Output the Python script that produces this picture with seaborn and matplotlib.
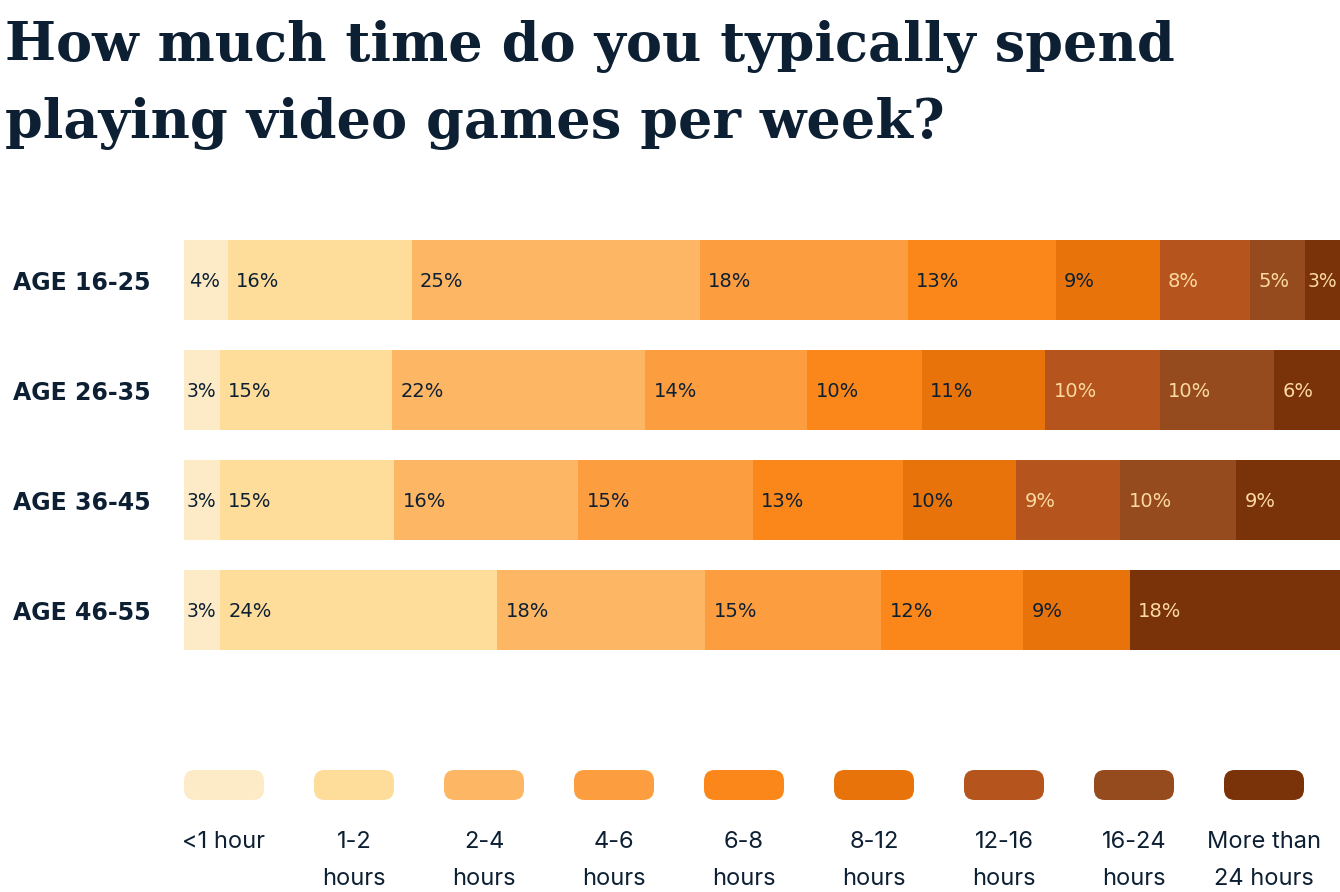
import numpy as np
import pandas as pd
import matplotlib
matplotlib.use("Agg")
import matplotlib.pyplot as plt
from matplotlib.patches import FancyBboxPatch
import seaborn as sns

# data (share of respondents, %)
ages = ["AGE 16-25", "AGE 26-35", "AGE 36-45", "AGE 46-55"]
bands = ["<1 hour", "1-2\nhours", "2-4\nhours", "4-6\nhours", "6-8\nhours",
         "8-12\nhours", "12-16\nhours", "16-24\nhours", "More than\n24 hours"]
age_16_25 = [3.8, 15.9, 24.9, 18.0, 12.8, 9.0, 7.8, 4.8, 3.0]
age_26_35 = [3.1, 14.9, 21.9, 14.0, 9.9, 10.7, 9.9, 9.9, 5.7]
age_36_45 = [3.1, 15.1, 15.9, 15.1, 13.0, 9.8, 9.0, 10.0, 9.0]
age_46_55 = [3.1, 24.0, 18.0, 15.2, 12.3, 9.2, 0.0, 0.0, 18.2]

colors = ["#fdebc8", "#fedd9b", "#fdb664", "#fc9d40", "#fb871a",
          "#e8730b", "#b5541d", "#954b1e", "#7a3208"]
navy = "#0d2033"
light_txt = "#fbd9a0"

vals = np.array([age_16_25, age_26_35, age_36_45, age_46_55])
cum = vals.cumsum(axis=1)

sns.set_theme(style="white")
plt.rcParams["font.family"] = ["Inter", "DejaVu Sans"]

fig = plt.figure(figsize=(13.4, 8.92), dpi=100)
ax = fig.add_axes([184 / 1340, (892 - 665) / 892, 1156 / 1340, 440 / 892])

# stacked bars: draw cumulative totals from the widest down
for j in range(len(bands) - 1, -1, -1):
    df = pd.DataFrame({"age": ages, "cum": cum[:, j]})
    sns.barplot(data=df, x="cum", y="age", color=colors[j], saturation=1,
                width=80 / 110, linewidth=0, errorbar=None, orient="h", ax=ax)

# percentage labels (tighter padding in the narrow segments)
for i in range(len(ages)):
    for j in range(len(bands)):
        v = vals[i, j]
        if v <= 0:
            continue
        left = cum[i, j] - v
        if v < 3.5:
            pad, fs = 1.5, 13.5
        elif v < 4.5:
            pad, fs = 4, 14
        else:
            pad, fs = 6, 14
        ax.annotate(f"{round(v)}%", xy=(left, i), xytext=(pad, -1),
                    textcoords="offset points", ha="left", va="center",
                    fontsize=fs, family="DejaVu Sans",
                    color=navy if j < 6 else light_txt)

ax.set_xlim(0, 100)
ax.set_ylim(3.5, -0.5)
ax.set_xlabel("")
ax.set_ylabel("")
ax.set_xticks([])
sns.despine(ax=ax, left=True, bottom=True)
ax.tick_params(axis="y", length=0, pad=24, labelsize=17, labelcolor=navy)
for lab in ax.get_yticklabels():
    lab.set_fontweight("bold")
    lab.set_family("DejaVu Sans")

# title
fig.text(5 / 1340, 1 - 61 / 892, "How much time do you typically spend",
         fontsize=39, fontweight="bold", family="DejaVu Serif",
         color=navy, va="baseline", ha="left")
fig.text(5 / 1340, 1 - 138 / 892, "playing video games per week?",
         fontsize=39, fontweight="bold", family="DejaVu Serif",
         color=navy, va="baseline", ha="left")

# legend swatches
for j, (lab, c) in enumerate(zip(bands, colors)):
    x0 = 184 + 130 * j
    sw = FancyBboxPatch((x0 / 1340, (892 - 800) / 892), 80 / 1340, 30 / 892,
                        boxstyle="round,pad=0,rounding_size=0.008",
                        transform=fig.transFigure, facecolor=c,
                        edgecolor="none", mutation_aspect=1340 / 892)
    fig.patches.append(sw)
    fig.text((x0 + 40) / 1340, 1 - 831 / 892, lab, ha="center", va="top",
             fontsize=17, color=navy, linespacing=1.9)

fig.savefig("out.png", dpi=100, facecolor="white")
